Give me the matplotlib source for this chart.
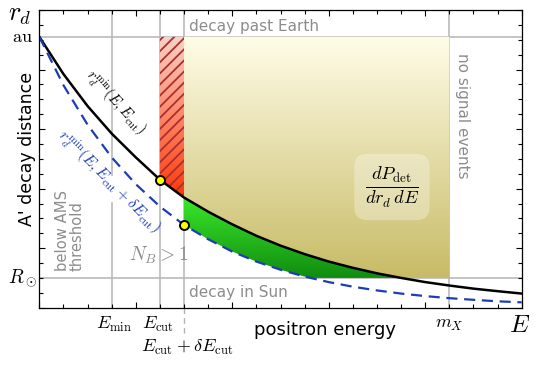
import numpy as np
import matplotlib
matplotlib.use("Agg")
import matplotlib.pyplot as plt
from matplotlib.colors import LinearSegmentedColormap

plt.rcParams['mathtext.fontset'] = 'cm'
plt.rcParams['font.family'] = ['DejaVu Sans']
plt.rcParams['hatch.linewidth'] = 1.3

# ---- data ----
energy = [0, 1, 2, 3, 4, 5, 6, 7, 8, 9, 10, 11, 12, 13, 14, 15, 16, 17, 18, 19, 20]
rd_min_cut = [18.2, 15.7, 13.55, 11.7, 10.1, 8.6, 7.4, 6.45, 5.6, 4.83, 4.17,
              3.6, 3.1, 2.68, 2.31, 2.0, 1.72, 1.49, 1.28, 1.11, 0.95]
rd_min_cut_delta = [18.2, 14.95, 12.3, 10.1, 8.3, 6.8, 5.56, 4.6, 3.77, 3.1, 2.55,
                    2.09, 1.72, 1.41, 1.16, 0.95, 0.78, 0.64, 0.53, 0.43, 0.36]
E_min, E_cut, E_cut_d, m_X = 3.0, 5.0, 6.0, 17.0
r_au, r_sun = 18.2, 2.0

W, H = 539, 369
fig = plt.figure(figsize=(W / 100, H / 100), dpi=100)
ax = fig.add_axes([39.3 / W, 1 - 307.7 / H, (521.7 - 39.3) / W, (307.7 - 10) / H])
ax.set_xlim(0, 20)
ax.set_ylim(0, 20)

gray = '#b4b4b4'
tgray = '#8c8c8c'

# reference lines
ax.axhline(r_au, color=gray, lw=1.1, zorder=1)
ax.axhline(r_sun, color=gray, lw=1.1, zorder=1)
ax.plot([E_min, E_min], [0, 7.05], color=gray, lw=1.1, zorder=1)
ax.plot([E_min, E_min], [8.9, 20], color=gray, lw=1.1, zorder=1)
for xv in (E_cut, E_cut_d, m_X):
    ax.axvline(xv, color=gray, lw=1.1, zorder=1)
ax.plot([E_cut_d, E_cut_d], [0, -1.95], color=gray, lw=1.0, ls=(0, (4, 3)),
        clip_on=False, zorder=1)

xs = np.linspace(0, 20, 2001)
blk = np.interp(xs, energy, rd_min_cut)
blu = np.interp(xs, energy, rd_min_cut_delta)


def gradient_region(x, y1, y2, where, ctop, cbot, ytop, ybot, zorder=2):
    poly = ax.fill_between(x, y1, y2, where=where, interpolate=True,
                           facecolor='none', edgecolor='none', zorder=zorder)
    cmap = LinearSegmentedColormap.from_list('g', [ctop, cbot])
    grad = np.linspace(0, 1, 256).reshape(-1, 1)
    im = ax.imshow(grad, extent=[0, 20, ybot, ytop], origin='upper', cmap=cmap,
                   aspect='auto', interpolation='bilinear', zorder=zorder)
    im.set_clip_path(poly.get_paths()[0], transform=ax.transData)
    return poly


# yellow region
m = (xs >= E_cut_d) & (xs <= m_X)
gradient_region(xs[m], np.maximum(blk[m], r_sun), r_au, None,
                '#fffde8', '#c8bb66', r_au, r_sun)
# green region
lower = np.maximum(blu[m], r_sun)
gradient_region(xs[m], lower, blk[m], blk[m] >= lower,
                '#3ae82a', '#108c10', 7.4, r_sun)
# red hatched region
m = (xs >= E_cut) & (xs <= E_cut_d)
gradient_region(xs[m], blk[m], r_au, None, '#fbd2c6', '#ff3a0a', r_au, 7.6)
ax.fill_between(xs[m], blk[m], r_au, facecolor='none', edgecolor='#a83030',
                hatch='///', linewidth=0, zorder=2.5)
ax.set_xlim(0, 20)
ax.set_ylim(0, 20)

# curves
ax.plot(energy, rd_min_cut, color='black', lw=1.8, zorder=4)
ax.plot(energy, rd_min_cut_delta, color='#1c3db5', lw=1.6, ls=(0, (5, 3)), zorder=4)
ax.plot([E_cut], [np.interp(E_cut, energy, rd_min_cut)], 'o', ms=6.5,
        mfc='#ffff00', mec='black', mew=1.4, zorder=5)
ax.plot([E_cut_d], [np.interp(E_cut_d, energy, rd_min_cut_delta)], 'o', ms=6.5,
        mfc='#ffff00', mec='black', mew=1.4, zorder=5)

# ticks
ax.set_xticks(np.arange(0, 21, 4))
ax.set_xticks(np.arange(0, 21, 1), minor=True)
ax.set_yticks(np.arange(0, 21, 4))
ax.set_yticks(np.arange(0, 21, 1), minor=True)
ax.tick_params(which='both', direction='in', top=True, right=True,
               labelbottom=False, labelleft=False, width=0.8, color='black')
ax.tick_params(which='major', length=4.5)
ax.tick_params(which='minor', length=2.8)
for s in ax.spines.values():
    s.set_linewidth(0.9)
    s.set_zorder(6)

# axis texts
ax.text(-0.8, 19.73, r'$r_d$', fontsize=19, ha='center', va='center')
ax.text(-0.25, r_au, r'$\mathrm{au}$', fontsize=13, ha='right', va='center')
ax.text(-0.08, r_sun, r'$R_\odot$', fontsize=14, ha='right', va='center')
ax.text(3.1, -1.1, r'$E_\mathrm{min}$', fontsize=13, ha='center', va='center')
ax.text(4.92, -1.1, r'$E_\mathrm{cut}$', fontsize=13, ha='center', va='center')
ax.text(6.12, -2.7, r'$E_\mathrm{cut}+\delta E_\mathrm{cut}$', fontsize=13,
        ha='center', va='center')
ax.text(17.0, -1.1, r'$m_X$', fontsize=13, ha='center', va='center')
ax.text(19.93, -1.15, r'$E$', fontsize=18, ha='center', va='center')
ax.text(11.85, -1.5, 'positron energy', fontsize=13, ha='center', va='center',
        fontweight='medium')
ax.text(-0.5, 10.65, "A' decay distance", fontsize=12.5, ha='center', va='center',
        rotation=90, fontweight='medium')

# region labels
ax.text(6.21, 18.86, 'decay past Earth', fontsize=11, color=tgray, ha='left', va='center')
ax.text(6.21, 1.05, 'decay in Sun', fontsize=11, color=tgray, ha='left', va='center')
ax.text(17.53, 12.9, 'no signal events', fontsize=11, color=tgray, ha='center',
        va='center', rotation=-90)
ax.text(1.27, 2.47, 'below AMS\nthreshold', fontsize=10.6, color=tgray, ha='center',
        va='bottom', rotation=90, multialignment='left', linespacing=0.95)
ax.text(4.96, 3.54, r'$N_B > 1$', fontsize=14, color=tgray, ha='center', va='center')

ax.text(3.15, 13.75, r'$r_d^\mathrm{min}(E, E_\mathrm{cut})$', fontsize=10.5,
        ha='center', va='center', rotation=-48, zorder=5)
ax.text(2.85, 8.44, r'$r_d^\mathrm{min}(E, E_\mathrm{cut}+\delta E_\mathrm{cut})$',
        fontsize=11.2, color='#1c3db5', ha='center', va='center', rotation=-45, zorder=5)

ax.text(14.62, 8.11, r'$\frac{dP_\mathrm{det}}{dr_d\,dE}$', fontsize=19,
        ha='center', va='center', zorder=5,
        bbox=dict(boxstyle='round,pad=0.4,rounding_size=0.5', facecolor='white',
                  alpha=0.3, edgecolor='none'))

fig.savefig('out.png', dpi=100)
